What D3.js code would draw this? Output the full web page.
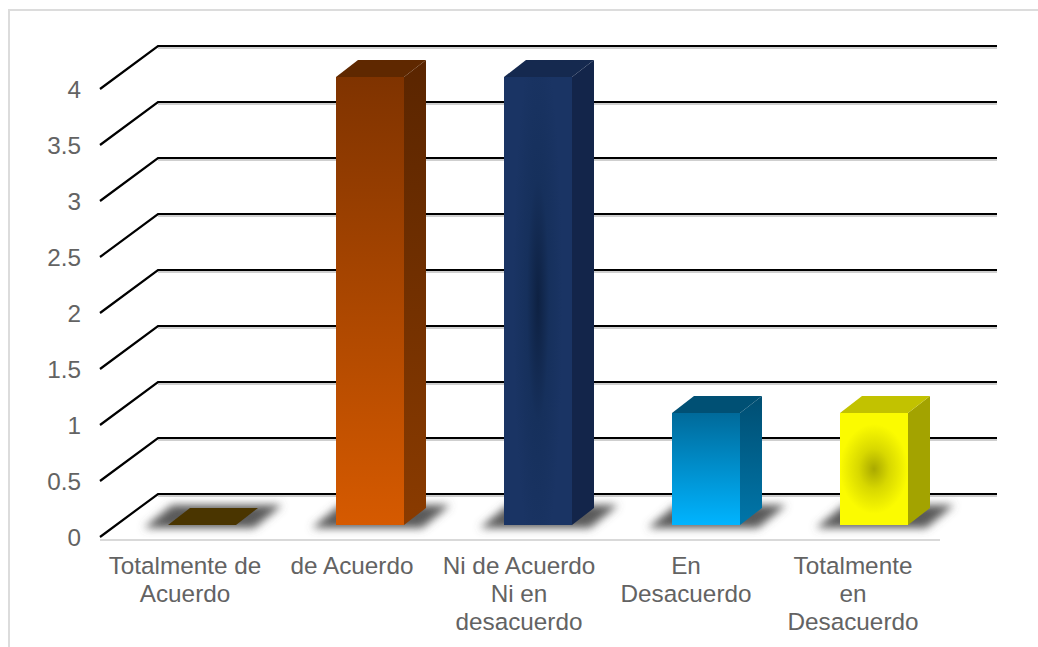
<!DOCTYPE html>
<html><head><meta charset="utf-8">
<script src="https://cdn.jsdelivr.net/npm/d3@7"></script>
<style>html,body{margin:0;padding:0;background:#fff}svg{display:block}text{font-family:"Liberation Sans",Arial,sans-serif;fill:#636363}</style>
</head><body><script>
const categories = [["Totalmente de","Acuerdo"],["de Acuerdo"],["Ni de Acuerdo","Ni en","desacuerdo"],["En","Desacuerdo"],["Totalmente","en","Desacuerdo"]];
const values = [0,4,4,1,1];
const yTicks = [0,0.5,1,1.5,2,2.5,3,3.5,4];
const faceTop = ["#4a3500","#7f3300","#1a3464","#006a9a","#fbfb00"];
const faceBottom = ["#4a3500","#d65a00","#1a3464","#00b4ff","#f2f200"];
const sideTop = ["#3c2b00","#5a2500","#13254a","#004e72","#a3a300"];
const sideBottom = ["#3c2b00","#8a3b00","#13254a","#0076aa","#a3a300"];
const capColor = ["#4a3500","#5f2800","#15294f","#005074","#c2c200"];
const faceCenter = [null,null,"#0e2142",null,"#a9a900"];
const faceMid = [null,null,"#16305c",null,"#d8d800"];

const W=1038,H=647;
const svg=d3.select("body").append("svg").attr("width",W).attr("height",H);
const defs=svg.append("defs");
const f=defs.append("filter").attr("id","soft").attr("x","-30%").attr("y","-80%").attr("width","160%").attr("height","260%");
f.append("feGaussianBlur").attr("stdDeviation",4.2);

const y=d3.scaleLinear().domain([0,4]).range([0,448]);
const x=d3.scaleBand().domain(d3.range(categories.length)).range([100,940]);
const xLabel=d3.scaleBand().domain(d3.range(categories.length)).range([101.5,936.5]);
const floorFront=537, wallDx=58, wallDy=-43, gridEnd=997;
const barW=68, depthX=22, depthY=-17;

// frame
svg.append("path").attr("d",`M9 647V10H1038`).attr("fill","none").attr("stroke","#dcdcdc").attr("stroke-width",2);

// gridlines: diagonal + back wall
const g=svg.append("g");
g.selectAll("path.shadow").data(yTicks).join("path").attr("class","shadow")
 .attr("d",d=>{const v=y(d);return `M${100+wallDx} ${floorFront+wallDy-v+2}H${gridEnd}`})
 .attr("fill","none").attr("stroke","#cfcfcf").attr("stroke-width",2);
g.selectAll("path.grid").data(yTicks).join("path").attr("class","grid")
 .attr("d",d=>{const v=y(d);return `M100 ${floorFront-v}L${100+wallDx} ${floorFront+wallDy-v}H${gridEnd}`})
 .attr("fill","none").attr("stroke","#000").attr("stroke-width",2.2);

// floor axis
svg.append("line").attr("x1",100).attr("x2",940).attr("y1",540).attr("y2",540).attr("stroke","#d9d9d9").attr("stroke-width",2);

// y labels
svg.selectAll("text.y").data(yTicks).join("text").attr("class","y")
 .attr("x",81).attr("y",d=>floorFront-y(d)+8.5).attr("text-anchor","end").attr("font-size",24.3).text(d=>d);

// bars
const base=525;
const bars=svg.selectAll("g.bar").data(values).join("g").attr("class","bar");
bars.each(function(v,i){
  const s=d3.select(this);
  const xl=x(i)+68, xr=xl+barW, h=y(v), t=base-h;
  // shadow
  s.append("path").attr("d",`M${xl-24} ${base+3}L${xl+4} ${base-20}H${xr+46}L${xr+18} ${base+3}Z`)
    .attr("fill","#5a5a5a").attr("filter","url(#soft)");
  if(v===0){
    s.append("path").attr("d",`M${xl} ${base}L${xl+depthX} ${base+depthY}H${xr+depthX}L${xr} ${base}Z`).attr("fill",faceTop[i]);
    return;
  }
  let fill;
  if(faceCenter[i]){
    const id="rg"+i;
    const rg=defs.append("radialGradient").attr("id",id).attr("cx","50%").attr("cy","50%").attr("r",i===2?"60%":"50%")
      .attr("gradientTransform",i===2?"translate(0.5 0.5) scale(0.6 1) translate(-0.5 -0.5)":"translate(0.5 0.5) scale(1 0.8) translate(-0.5 -0.5)");
    rg.append("stop").attr("offset","0%").attr("stop-color",faceCenter[i]);
    rg.append("stop").attr("offset","45%").attr("stop-color",faceMid[i]);
    rg.append("stop").attr("offset","100%").attr("stop-color",faceTop[i]);
    fill=`url(#${id})`;
  } else {
    const id="lg"+i;
    const lg=defs.append("linearGradient").attr("id",id).attr("x1",0).attr("x2",0).attr("y1",0).attr("y2",1);
    lg.append("stop").attr("offset","0%").attr("stop-color",faceTop[i]);
    lg.append("stop").attr("offset","100%").attr("stop-color",faceBottom[i]);
    fill=`url(#${id})`;
  }
  const sid="sg"+i;
  const sg=defs.append("linearGradient").attr("id",sid).attr("x1",0).attr("x2",0).attr("y1",0).attr("y2",1);
  sg.append("stop").attr("offset","0%").attr("stop-color",sideTop[i]);
  sg.append("stop").attr("offset","100%").attr("stop-color",sideBottom[i]);
  s.append("rect").attr("x",xl).attr("y",t).attr("width",barW).attr("height",h).attr("fill",fill);
  s.append("path").attr("d",`M${xr} ${t}L${xr+depthX} ${t+depthY}V${base+depthY}L${xr} ${base}Z`).attr("fill",`url(#${sid})`);
  s.append("path").attr("d",`M${xl} ${t}L${xl+depthX} ${t+depthY}H${xr+depthX}L${xr} ${t}Z`).attr("fill",capColor[i]);
});

// category labels
svg.selectAll("text.cat").data(categories).join("text").attr("class","cat")
 .attr("text-anchor","middle").attr("font-size",24.3)
 .each(function(lines,i){
   d3.select(this).selectAll("tspan").data(lines).join("tspan")
     .attr("x",xLabel(i)+xLabel.bandwidth()/2).attr("y",(d,j)=>574+j*28).text(d=>d);
 });
</script></body></html>
